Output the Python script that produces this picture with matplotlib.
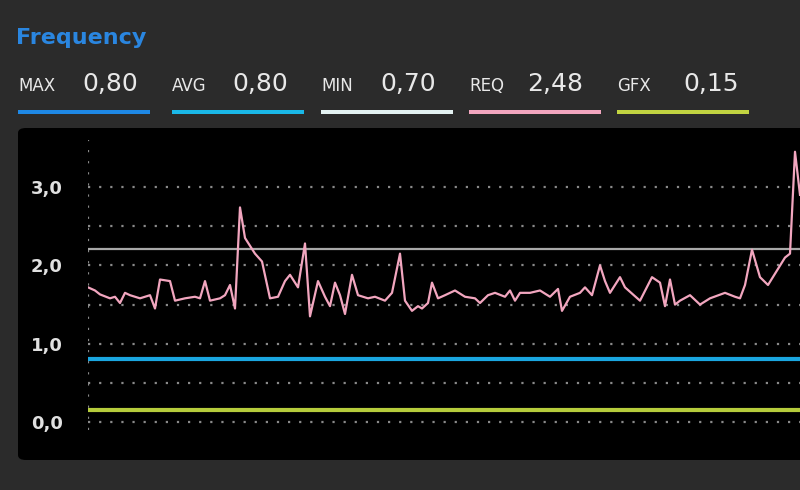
import matplotlib
matplotlib.use("Agg")
import matplotlib.pyplot as plt
from matplotlib.patches import FancyBboxPatch

t = [88,95,100,110,115,120,125,130,140,150,155,160,170,175,185,195,200,205,210,220,225,230,235,240,245,255,262,270,278,285,290,298,305,310,318,325,330,335,340,345,352,358,368,375,385,392,400,405,412,418,422,428,432,438,445,455,465,475,480,488,495,505,510,515,520,530,540,550,558,562,570,580,585,592,600,605,610,620,625,640,652,660,665,670,675,680,690,700,710,725,735,740,745,752,760,768,785,790,795,800]
req = [1.72,1.68,1.63,1.58,1.60,1.52,1.65,1.62,1.58,1.62,1.45,1.82,1.80,1.55,1.58,1.60,1.58,1.80,1.55,1.58,1.62,1.75,1.45,2.74,2.35,2.15,2.05,1.58,1.60,1.80,1.88,1.72,2.28,1.35,1.80,1.60,1.48,1.78,1.62,1.38,1.88,1.62,1.58,1.60,1.55,1.65,2.15,1.55,1.42,1.48,1.45,1.52,1.78,1.58,1.62,1.68,1.60,1.58,1.52,1.62,1.65,1.60,1.68,1.55,1.65,1.65,1.68,1.60,1.70,1.42,1.60,1.65,1.72,1.62,2.00,1.80,1.65,1.85,1.72,1.55,1.85,1.78,1.48,1.82,1.50,1.55,1.62,1.50,1.58,1.65,1.60,1.58,1.75,2.20,1.85,1.75,2.10,2.15,3.45,2.90]
max_v, avg_v, min_v, gfx_v = 0.80, 0.80, 0.70, 0.15
min_line = 2.21
labels = ["MAX", "AVG", "MIN", "REQ", "GFX"]
values = ["0,80", "0,80", "0,70", "2,48", "0,15"]
colors = ["#1e88e5", "#1ab8e8", "#e4f2f2", "#f2a6bf", "#c2d441"]
yticks = [0.0, 1.0, 2.0, 3.0]

W, H = 800, 490
fig = plt.figure(figsize=(W/100, H/100), dpi=100, facecolor="#2b2b2b")
def fx(p): return p / W
def fy(p): return 1 - p / H

fig.patches.append(FancyBboxPatch((fx(18), fy(460)), fx(800) - fx(18) + 0.02, fy(128) - fy(460),
                                  boxstyle="round,pad=0,rounding_size=0.01", transform=fig.transFigure,
                                  facecolor="black", edgecolor="none", zorder=-10))

ax = fig.add_axes([fx(88), fy(430), fx(800) - fx(88), fy(140) - fy(430)])
ax.set_facecolor("none")
ax.set_xlim(88, 800)
ax.set_ylim(-0.1, 3.6)
for g in [0, 0.5, 1, 1.5, 2, 2.5, 3]:
    ax.axhline(g, color="#8a8a8a", lw=1.6, ls=(0, (1, 4)), zorder=1)
ax.axvline(88, color="#8a8a8a", lw=1.6, ls=(0, (1, 4)), zorder=1)
ax.axhline(min_line, color="#a8a8a8", lw=1.6, zorder=2)
ax.axhline(avg_v, color="#1aa6e0", lw=3, zorder=2)
ax.axhline(gfx_v, color="#b6cc3c", lw=3, zorder=2)
ax.plot(t, req, color="#f2a6bf", lw=1.6, zorder=3)
for s in ax.spines.values():
    s.set_visible(False)
ax.set_xticks([])
ax.set_yticks(yticks)
ax.set_yticklabels([f"{v:.1f}".replace(".", ",") for v in yticks], color="#e0e0e0",
                   fontsize=13, fontweight="bold")
ax.tick_params(axis="y", length=0, pad=18)

fig.text(fx(16), fy(38), "Frequency", color="#2a86e0", fontsize=16, fontweight="bold", va="center")
xs = [18, 172, 321, 469, 617]
vx = [82, 232, 380, 527, 683]
for x0, v0, lab, val, c in zip(xs, vx, labels, values, colors):
    fig.text(fx(x0), fy(86), lab, color="#e8e8e8", fontsize=12, va="center")
    fig.text(fx(v0), fy(84), val, color="#e8e8e8", fontsize=18, va="center")
    fig.patches.append(plt.Rectangle((fx(x0), fy(114)), fx(132), 4 / H, transform=fig.transFigure,
                                     facecolor=c, edgecolor="none"))

fig.savefig("out.png", dpi=100, facecolor=fig.get_facecolor())
